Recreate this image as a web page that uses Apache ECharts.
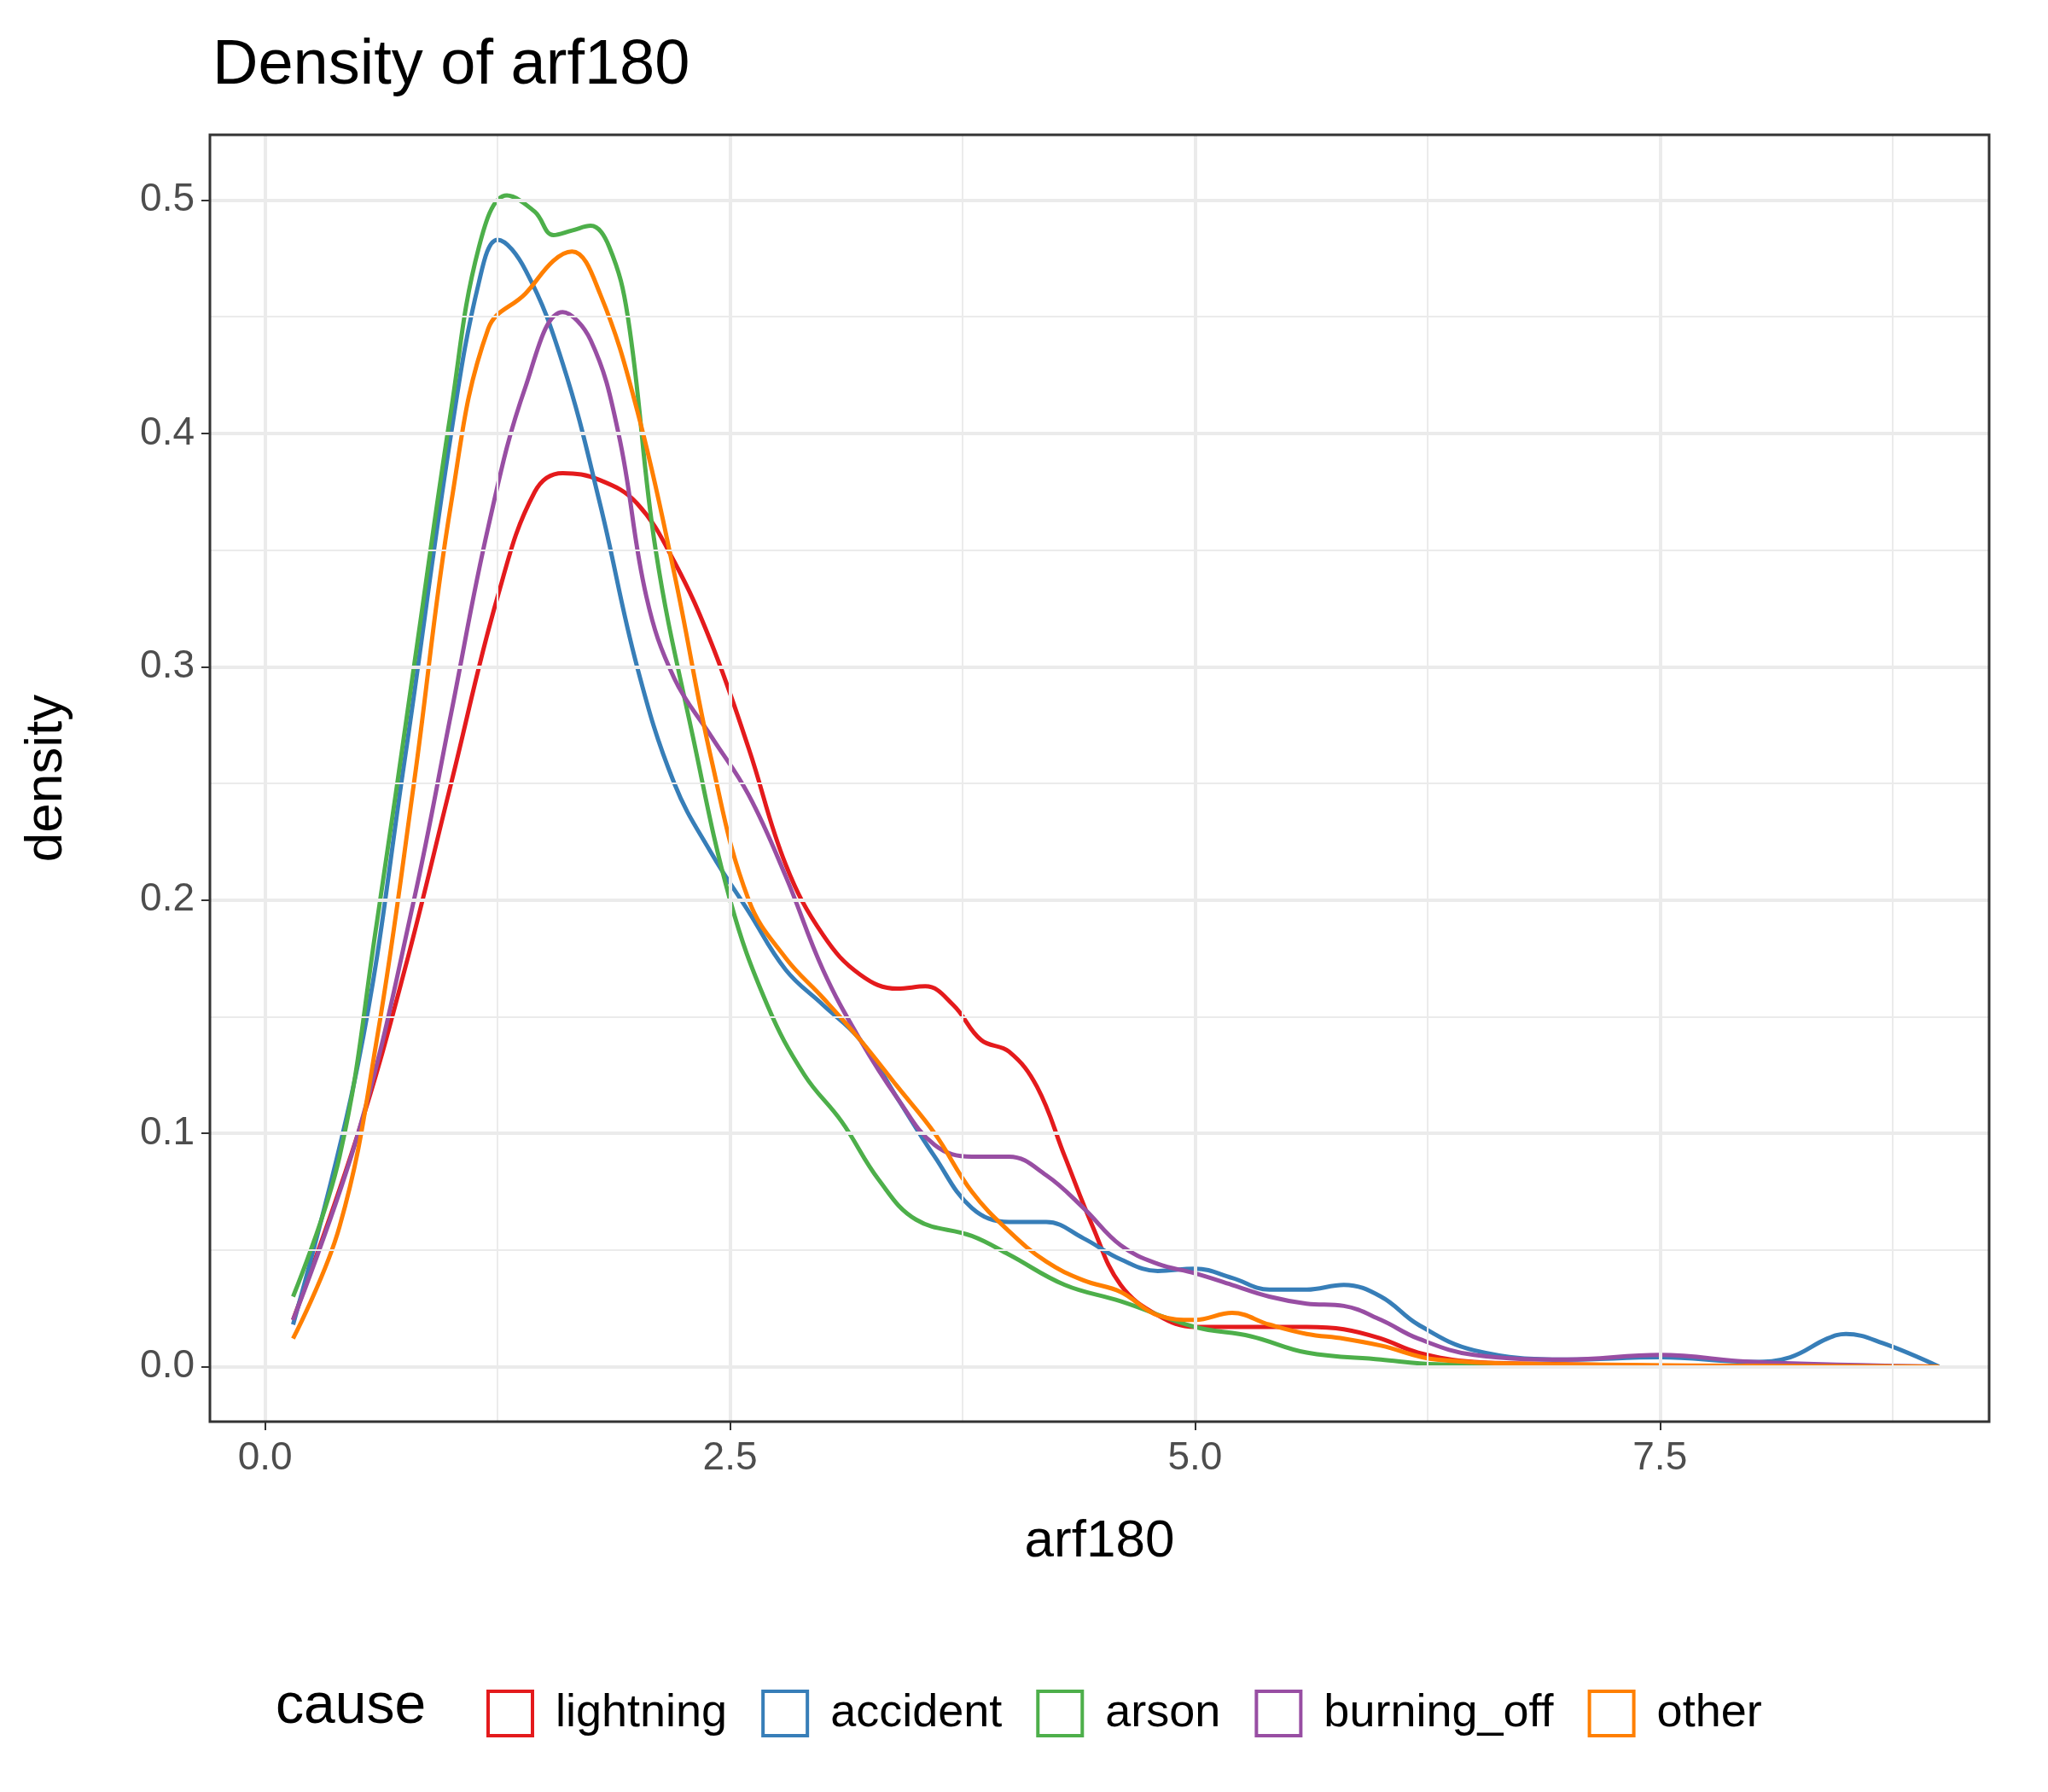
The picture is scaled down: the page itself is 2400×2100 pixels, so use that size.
<!DOCTYPE html>
<html><head><meta charset="utf-8">
<script src="https://cdn.jsdelivr.net/npm/echarts@6/dist/echarts.min.js"></script>
<style>html,body{margin:0;padding:0;background:#fff}#c{width:2400px;height:2100px}</style>
</head><body><div id="c"></div>
<script>
const causes = ['lightning','accident','arson','burning_off','other'];
const colors = ['#E41A1C','#377EB8','#4DAF4A','#984EA3','#FF7F00'];
const xTicks = [0,2.5,5,7.5];
const yTicks = [0,0.1,0.2,0.3,0.4,0.5];
const lightning = [[0.15,0.02],[0.5,0.1],[0.75,0.17],[1.0,0.25],[1.25,0.33],[1.45,0.375],[1.6,0.383],[1.8,0.38],[2.0,0.37],[2.2,0.345],[2.4,0.31],[2.6,0.265],[2.8,0.215],[3.0,0.185],[3.2,0.168],[3.4,0.162],[3.55,0.163],[3.7,0.155],[3.85,0.14],[4.0,0.135],[4.15,0.12],[4.3,0.09],[4.45,0.06],[4.6,0.035],[4.8,0.022],[5.0,0.017],[5.3,0.017],[5.6,0.017],[5.8,0.016],[6.0,0.012],[6.2,0.006],[6.5,0.002],[7,0.001],[8,0],[9,0]];
const accident = [[0.15,0.018],[0.5,0.13],[0.75,0.26],[1.0,0.4],[1.15,0.465],[1.25,0.483],[1.4,0.47],[1.6,0.43],[1.8,0.37],[2.0,0.3],[2.2,0.25],[2.4,0.22],[2.6,0.195],[2.8,0.17],[3.0,0.155],[3.2,0.14],[3.4,0.115],[3.6,0.09],[3.8,0.068],[4.0,0.062],[4.2,0.062],[4.4,0.055],[4.6,0.046],[4.8,0.041],[5.0,0.042],[5.2,0.038],[5.4,0.033],[5.6,0.033],[5.8,0.035],[6.0,0.03],[6.2,0.018],[6.5,0.007],[7.0,0.003],[7.5,0.004],[8.0,0.002],[8.2,0.004],[8.4,0.012],[8.5,0.014],[8.7,0.01],[9.0,0]];
const arson = [[0.15,0.03],[0.4,0.09],[0.6,0.19],[0.8,0.3],[1.0,0.41],[1.15,0.48],[1.3,0.502],[1.45,0.495],[1.55,0.485],[1.65,0.487],[1.75,0.489],[1.85,0.48],[1.95,0.45],[2.1,0.35],[2.3,0.27],[2.5,0.2],[2.7,0.155],[2.9,0.125],[3.1,0.105],[3.3,0.08],[3.5,0.063],[3.8,0.056],[4.0,0.048],[4.3,0.035],[4.6,0.028],[5.0,0.017],[5.3,0.013],[5.6,0.006],[6.0,0.003],[6.3,0.001],[7,0],[9,0]];
const burning_off = [[0.15,0.02],[0.5,0.1],[0.8,0.2],[1.0,0.28],[1.2,0.36],[1.4,0.42],[1.6,0.452],[1.75,0.44],[1.9,0.4],[2.05,0.33],[2.2,0.295],[2.4,0.27],[2.6,0.245],[2.8,0.21],[3.0,0.17],[3.2,0.14],[3.4,0.115],[3.6,0.095],[3.8,0.09],[4.0,0.09],[4.2,0.082],[4.4,0.068],[4.6,0.052],[4.8,0.044],[5.0,0.04],[5.2,0.035],[5.4,0.03],[5.6,0.027],[5.8,0.026],[6.0,0.02],[6.2,0.012],[6.5,0.005],[7.0,0.003],[7.5,0.005],[8.0,0.002],[9,0]];
const other = [[0.15,0.012],[0.4,0.06],[0.6,0.14],[0.8,0.25],[1.0,0.37],[1.2,0.445],[1.4,0.46],[1.55,0.474],[1.65,0.478],[1.8,0.46],[2.0,0.41],[2.2,0.34],[2.4,0.26],[2.6,0.2],[2.8,0.175],[3.0,0.158],[3.2,0.14],[3.4,0.12],[3.6,0.1],[3.8,0.075],[4.0,0.058],[4.2,0.045],[4.4,0.037],[4.6,0.032],[4.8,0.022],[5.0,0.02],[5.2,0.023],[5.4,0.018],[5.6,0.014],[5.8,0.012],[6.0,0.009],[6.3,0.003],[7,0.001],[9,0]];
const seriesData = [lightning, accident, arson, burning_off, other];
const xMinor = [1.25,3.75,6.25,8.75];
const yMinor = [0.05,0.15,0.25,0.35,0.45];

const F = 'Liberation Sans, Arial, sans-serif';
const chart = echarts.init(document.getElementById('c'));
const gridLines = [];
xMinor.forEach(v=>gridLines.push({xAxis:v,lineStyle:{color:'#EBEBEB',width:2,type:'solid'}}));
yMinor.forEach(v=>gridLines.push({yAxis:v,lineStyle:{color:'#EBEBEB',width:2,type:'solid'}}));
xTicks.forEach(v=>gridLines.push({xAxis:v,lineStyle:{color:'#EBEBEB',width:4,type:'solid'}}));
yTicks.forEach(v=>gridLines.push({yAxis:v,lineStyle:{color:'#EBEBEB',width:4,type:'solid'}}));
const series = [{type:'line',data:[],silent:true,markLine:{silent:true,symbol:'none',label:{show:false},data:gridLines,animation:false}}];
causes.forEach((c,i)=>series.push({name:c,type:'line',data:seriesData[i],smooth:0.4,showSymbol:false,lineStyle:{color:colors[i],width:5},itemStyle:{color:colors[i]}}));
chart.setOption({
  animation:false,
  title:{text:'Density of arf180',left:244,top:36,textStyle:{fontFamily:F,fontSize:74,fontWeight:'normal',color:'#000'}},
  grid:{left:246,right:69,top:158,bottom:434},
  xAxis:{type:'value',min:-0.297,max:9.27,name:'arf180',nameLocation:'middle',nameGap:110,
    nameTextStyle:{fontFamily:F,fontSize:62,color:'#000'},
    axisLine:{show:true,onZero:false,lineStyle:{color:'#333',width:2}},
    axisTick:{show:true,customValues:xTicks,length:10,lineStyle:{color:'#333',width:2}},
    axisLabel:{customValues:xTicks,fontFamily:F,fontSize:46,color:'#4D4D4D',margin:20,formatter:v=>v.toFixed(1)},
    splitLine:{show:false}},
  yAxis:{type:'value',min:-0.0236,max:0.528,name:'density',nameLocation:'middle',nameGap:160,
    nameTextStyle:{fontFamily:F,fontSize:62,color:'#000'},
    axisLine:{show:true,onZero:false,lineStyle:{color:'#333',width:2}},
    axisTick:{show:true,customValues:yTicks,length:10,lineStyle:{color:'#333',width:2}},
    axisLabel:{customValues:yTicks,fontFamily:F,fontSize:46,color:'#4D4D4D',margin:18,formatter:v=>v.toFixed(1)},
    splitLine:{show:false}},
  graphic:[
    {type:'rect',shape:{x:246,y:158,width:2085,height:1508},style:{fill:'none',stroke:'#333',lineWidth:3},z:100},
    {type:'text',left:323,top:1968,style:{text:'cause',fontFamily:F,fontSize:66,fill:'#000'}}
  ],
  legend:{left:565,top:1975,itemWidth:52,itemHeight:52,itemGap:40,
    textStyle:{fontFamily:F,fontSize:54,color:'#000',padding:[0,0,0,22]},
    data:causes.map((c,i)=>({name:c,icon:'rect',itemStyle:{color:'#fff',borderColor:colors[i],borderWidth:4}}))},
  series
});
</script></body></html>
